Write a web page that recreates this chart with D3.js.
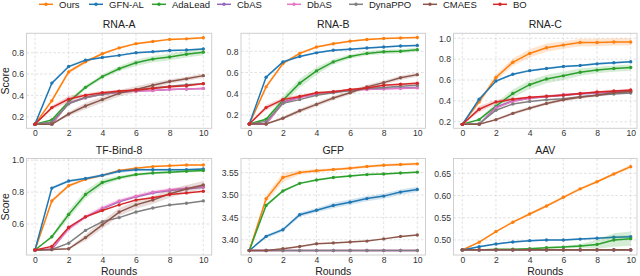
<!DOCTYPE html>
<html>
<head>
<meta charset="utf-8">
<script src="https://cdn.jsdelivr.net/npm/d3@7"></script>
<style>
  body { margin: 0; background: #fff; }
  svg { display: block; font-family: "Liberation Sans", Arial, sans-serif; }
</style>
</head>
<body>
<svg id="chart" width="640" height="276"></svg>
<script>
var methods = ["Ours", "GFN-AL", "AdaLead", "CbAS", "DbAS", "DynaPPO", "CMAES", "BO"];
var colors  = ["#ff7f0e", "#1f77b4", "#2ca02c", "#9467bd", "#e377c2", "#7f7f7f", "#8c564b", "#d62728"];
var rounds  = [0, 1, 2, 3, 4, 5, 6, 7, 8, 9, 10];
var xTicks  = [0, 2, 4, 6, 8, 10];

// mean score per round
var rnaA = {
  "Ours":    [0.13, 0.35, 0.62, 0.715, 0.79, 0.845, 0.885, 0.905, 0.925, 0.93, 0.94],
  "GFN-AL":  [0.13, 0.515, 0.67, 0.73, 0.755, 0.775, 0.80, 0.81, 0.82, 0.825, 0.835],
  "AdaLead": [0.13, 0.17, 0.34, 0.475, 0.575, 0.65, 0.705, 0.74, 0.76, 0.785, 0.805],
  "CbAS":    [0.13, 0.13, 0.33, 0.38, 0.41, 0.43, 0.44, 0.445, 0.455, 0.46, 0.465],
  "DbAS":    [0.13, 0.13, 0.325, 0.375, 0.41, 0.43, 0.44, 0.445, 0.455, 0.46, 0.465],
  "DynaPPO": [0.13, 0.15, 0.32, 0.38, 0.41, 0.435, 0.45, 0.47, 0.485, 0.50, 0.51],
  "CMAES":   [0.13, 0.13, 0.225, 0.30, 0.36, 0.42, 0.455, 0.495, 0.53, 0.555, 0.585],
  "BO":      [0.13, 0.285, 0.365, 0.40, 0.425, 0.44, 0.45, 0.465, 0.48, 0.49, 0.51]
};
var rnaB = {
  "Ours":    [0.116, 0.465, 0.685, 0.78, 0.84, 0.87, 0.895, 0.91, 0.92, 0.925, 0.93],
  "GFN-AL":  [0.116, 0.555, 0.70, 0.75, 0.785, 0.81, 0.82, 0.83, 0.84, 0.85, 0.855],
  "AdaLead": [0.116, 0.16, 0.34, 0.50, 0.615, 0.70, 0.75, 0.78, 0.795, 0.80, 0.815],
  "CbAS":    [0.116, 0.116, 0.32, 0.37, 0.40, 0.42, 0.435, 0.445, 0.45, 0.455, 0.46],
  "DbAS":    [0.116, 0.116, 0.31, 0.365, 0.395, 0.415, 0.43, 0.44, 0.445, 0.45, 0.455],
  "DynaPPO": [0.116, 0.14, 0.31, 0.345, 0.385, 0.41, 0.43, 0.45, 0.46, 0.47, 0.48],
  "CMAES":   [0.116, 0.116, 0.17, 0.24, 0.30, 0.36, 0.41, 0.465, 0.505, 0.55, 0.58],
  "BO":      [0.116, 0.27, 0.345, 0.375, 0.41, 0.42, 0.44, 0.455, 0.48, 0.49, 0.50]
};
var rnaC = {
  "Ours":    [0.175, 0.39, 0.625, 0.77, 0.855, 0.91, 0.935, 0.96, 0.96, 0.965, 0.965],
  "GFN-AL":  [0.175, 0.415, 0.59, 0.655, 0.69, 0.71, 0.73, 0.74, 0.755, 0.765, 0.775],
  "AdaLead": [0.175, 0.22, 0.35, 0.47, 0.555, 0.61, 0.64, 0.675, 0.695, 0.71, 0.72],
  "CbAS":    [0.175, 0.175, 0.34, 0.40, 0.425, 0.44, 0.455, 0.465, 0.475, 0.48, 0.49],
  "DbAS":    [0.175, 0.175, 0.33, 0.395, 0.425, 0.445, 0.46, 0.47, 0.48, 0.49, 0.495],
  "DynaPPO": [0.175, 0.18, 0.31, 0.37, 0.395, 0.41, 0.42, 0.44, 0.455, 0.465, 0.475],
  "CMAES":   [0.175, 0.175, 0.22, 0.28, 0.33, 0.375, 0.41, 0.435, 0.455, 0.48, 0.49],
  "BO":      [0.175, 0.32, 0.39, 0.415, 0.435, 0.445, 0.455, 0.47, 0.485, 0.495, 0.505]
};
var tfBind = {
  "Ours":    [0.4375, 0.745, 0.84, 0.88, 0.905, 0.935, 0.95, 0.96, 0.965, 0.97, 0.97],
  "GFN-AL":  [0.4375, 0.825, 0.87, 0.885, 0.905, 0.93, 0.94, 0.94, 0.94, 0.94, 0.945],
  "AdaLead": [0.4375, 0.52, 0.66, 0.785, 0.86, 0.89, 0.91, 0.92, 0.925, 0.93, 0.935],
  "CbAS":    [0.4375, 0.44, 0.575, 0.645, 0.695, 0.74, 0.77, 0.795, 0.81, 0.82, 0.83],
  "DbAS":    [0.4375, 0.445, 0.57, 0.645, 0.70, 0.745, 0.775, 0.80, 0.815, 0.825, 0.835],
  "DynaPPO": [0.4375, 0.44, 0.48, 0.56, 0.615, 0.64, 0.675, 0.70, 0.72, 0.73, 0.745],
  "CMAES":   [0.4375, 0.44, 0.445, 0.515, 0.595, 0.675, 0.72, 0.75, 0.79, 0.82, 0.845],
  "BO":      [0.4375, 0.46, 0.58, 0.645, 0.685, 0.72, 0.75, 0.765, 0.785, 0.795, 0.805]
};
var gfp = {
  "Ours":    [3.376, 3.4915, 3.539, 3.55, 3.554, 3.557, 3.56, 3.5635, 3.5665, 3.568, 3.5695],
  "GFN-AL":  [3.376, 3.4075, 3.4225, 3.456, 3.466, 3.4765, 3.484, 3.492, 3.4975, 3.5065, 3.5125],
  "AdaLead": [3.376, 3.4765, 3.509, 3.526, 3.5335, 3.539, 3.5425, 3.5455, 3.547, 3.549, 3.551],
  "CbAS":    [3.376, 3.376, 3.376, 3.376, 3.376, 3.376, 3.376, 3.376, 3.376, 3.376, 3.376],
  "DbAS":    [3.376, 3.376, 3.376, 3.376, 3.376, 3.376, 3.376, 3.376, 3.376, 3.376, 3.376],
  "DynaPPO": [3.376, 3.376, 3.376, 3.376, 3.376, 3.376, 3.376, 3.376, 3.376, 3.376, 3.376],
  "CMAES":   [3.376, 3.376, 3.38, 3.385, 3.391, 3.393, 3.395, 3.397, 3.402, 3.4075, 3.4105]
};
var aav = {
  "Ours":    [0.4775, 0.495, 0.519, 0.54, 0.5585, 0.5765, 0.596, 0.615, 0.631, 0.6485, 0.665],
  "GFN-AL":  [0.4775, 0.485, 0.491, 0.4955, 0.4985, 0.50, 0.50, 0.502, 0.504, 0.506, 0.5075],
  "AdaLead": [0.4775, 0.4775, 0.479, 0.479, 0.4805, 0.4825, 0.484, 0.4865, 0.49, 0.50, 0.503],
  "CbAS":    [0.4775, 0.4775, 0.4775, 0.4775, 0.4775, 0.4775, 0.4775, 0.4775, 0.4775, 0.4775, 0.4775],
  "DbAS":    [0.4775, 0.4775, 0.4775, 0.4775, 0.4775, 0.4775, 0.4775, 0.4775, 0.4775, 0.4775, 0.4775],
  "DynaPPO": [0.4775, 0.4775, 0.4775, 0.4775, 0.4775, 0.4775, 0.4775, 0.4775, 0.4775, 0.4775, 0.4775],
  "CMAES":   [0.478, 0.478, 0.478, 0.478, 0.478, 0.478, 0.478, 0.478, 0.478, 0.478, 0.478]
};

// half-width of the shaded band (std), only where visible
var rnaABand = {
  "Ours":    [0, 0.02, 0.02, 0.015, 0.012, 0.01, 0.01, 0.01, 0.008, 0.008, 0.008],
  "GFN-AL":  [0, 0.01, 0.01, 0.01, 0.008, 0.008, 0.008, 0.008, 0.008, 0.008, 0.008],
  "AdaLead": [0, 0.01, 0.02, 0.02, 0.02, 0.025, 0.03, 0.03, 0.03, 0.03, 0.03],
  "CMAES":   [0, 0, 0.02, 0.03, 0.03, 0.03, 0.03, 0.025, 0.02, 0.02, 0.02],
  "BO":      [0, 0.02, 0.03, 0.02, 0.015, 0.01, 0.01, 0.01, 0.01, 0.01, 0.01]
};
var rnaBBand = {
  "Ours":    [0, 0.02, 0.015, 0.012, 0.01, 0.01, 0.008, 0.008, 0.008, 0.008, 0.008],
  "GFN-AL":  [0, 0.01, 0.01, 0.008, 0.008, 0.008, 0.008, 0.008, 0.008, 0.008, 0.008],
  "AdaLead": [0, 0.01, 0.04, 0.04, 0.035, 0.025, 0.02, 0.02, 0.02, 0.02, 0.02],
  "CMAES":   [0, 0, 0.015, 0.02, 0.02, 0.02, 0.02, 0.02, 0.02, 0.02, 0.02],
  "BO":      [0, 0.025, 0.02, 0.015, 0.01, 0.01, 0.01, 0.01, 0.01, 0.01, 0.01]
};
var rnaCBand = {
  "Ours":    [0, 0.02, 0.03, 0.035, 0.04, 0.04, 0.035, 0.035, 0.035, 0.035, 0.035],
  "GFN-AL":  [0, 0.01, 0.01, 0.01, 0.01, 0.01, 0.01, 0.01, 0.01, 0.01, 0.01],
  "AdaLead": [0, 0.01, 0.03, 0.04, 0.04, 0.04, 0.04, 0.035, 0.03, 0.03, 0.03],
  "CMAES":   [0, 0, 0.01, 0.015, 0.015, 0.015, 0.015, 0.015, 0.015, 0.015, 0.015],
  "BO":      [0, 0.03, 0.02, 0.015, 0.01, 0.01, 0.01, 0.01, 0.01, 0.01, 0.01]
};
var tfBindBand = {
  "Ours":    [0, 0.012, 0.01, 0.008, 0.006, 0.005, 0.005, 0.005, 0.005, 0.005, 0.005],
  "GFN-AL":  [0, 0.01, 0.008, 0.008, 0.01, 0.01, 0.01, 0.008, 0.008, 0.008, 0.008],
  "AdaLead": [0, 0.01, 0.025, 0.025, 0.02, 0.012, 0.01, 0.008, 0.008, 0.008, 0.008],
  "DbAS":    [0, 0.005, 0.015, 0.015, 0.015, 0.012, 0.012, 0.012, 0.012, 0.012, 0.012],
  "CMAES":   [0, 0, 0.005, 0.02, 0.025, 0.025, 0.025, 0.025, 0.025, 0.025, 0.025]
};
var gfpBand = {
  "Ours":    [0, 0.008, 0.01, 0.005, 0.004, 0.003, 0.003, 0.003, 0.003, 0.003, 0.003],
  "GFN-AL":  [0, 0.004, 0.004, 0.005, 0.005, 0.006, 0.006, 0.006, 0.006, 0.006, 0.006],
  "AdaLead": [0, 0.004, 0.003, 0.002, 0.002, 0.002, 0.002, 0.002, 0.002, 0.002, 0.002]
};
var aavBand = {
  "Ours":    [0, 0.002, 0.002, 0.002, 0.003, 0.003, 0.003, 0.003, 0.003, 0.003, 0.004],
  "GFN-AL":  [0, 0.002, 0.002, 0.002, 0.002, 0.002, 0.002, 0.002, 0.002, 0.003, 0.003],
  "AdaLead": [0, 0, 0.001, 0.001, 0.002, 0.002, 0.003, 0.004, 0.01, 0.015, 0.016]
};

var titles   = ["RNA-A", "RNA-B", "RNA-C", "TF-Bind-8", "GFP", "AAV"];
var datasets = [rnaA, rnaB, rnaC, tfBind, gfp, aav];
var bands    = [rnaABand, rnaBBand, rnaCBand, tfBindBand, gfpBand, aavBand];
var yDomains = [[0.091, 0.982], [0.075, 0.969], [0.137, 1.048], [0.406, 1.0106], [3.366, 3.5815], [0.4662, 0.6833]];
var yTicks   = [[0.2, 0.4, 0.6, 0.8], [0.2, 0.4, 0.6, 0.8], [0.2, 0.4, 0.6, 0.8, 1.0],
                [0.6, 0.8, 1.0], [3.40, 3.45, 3.50, 3.55], [0.50, 0.55, 0.60, 0.65]];
var yFormats = [".1f", ".1f", ".1f", ".1f", ".2f", ".2f"];

// layout: columns (frame left/right, pixel of x=0 and x=10) and rows (frame top/bottom)
var cols = [
  { left: 26.5, right: 211.7, x0: 35, x10: 203.3 },
  { left: 241, right: 425.5, x0: 249.3, x10: 417.3 },
  { left: 453.5, right: 637, x0: 462.3, x10: 630.7 }
];
var rows = [ { top: 33.3, bottom: 128.3 }, { top: 158.5, bottom: 255 } ];

var svg = d3.select("#chart");

datasets.forEach(function(data, p) {
  var col = cols[p % 3], row = rows[Math.floor(p / 3)];
  var x = d3.scaleLinear().domain([0, 10]).range([col.x0, col.x10]);
  var y = d3.scaleLinear().domain(yDomains[p]).range([row.bottom, row.top]);
  var g = svg.append("g");
  var clipId = "clip" + p;

  g.append("clipPath").attr("id", clipId)
    .append("rect")
    .attr("x", col.left).attr("y", row.top)
    .attr("width", col.right - col.left).attr("height", row.bottom - row.top);

  // grid
  g.selectAll(".vgrid").data(xTicks).enter().append("line")
    .attr("x1", function(d) { return x(d); }).attr("x2", function(d) { return x(d); })
    .attr("y1", row.top).attr("y2", row.bottom)
    .attr("stroke", "#d9d9d9").attr("stroke-width", 0.8).attr("stroke-dasharray", "2.5,2");
  g.selectAll(".hgrid").data(yTicks[p]).enter().append("line")
    .attr("x1", col.left).attr("x2", col.right)
    .attr("y1", function(d) { return y(d); }).attr("y2", function(d) { return y(d); })
    .attr("stroke", "#d9d9d9").attr("stroke-width", 0.8).attr("stroke-dasharray", "2.5,2");

  // axes (labels only)
  var xAxis = d3.axisBottom(x).tickValues(xTicks).tickSize(0).tickPadding(1.5).tickFormat(d3.format("d"));
  var yAxis = d3.axisLeft(y).tickValues(yTicks[p]).tickSize(0).tickPadding(2.5).tickFormat(d3.format(yFormats[p]));
  var xa = g.append("g").attr("transform", "translate(0," + row.bottom + ")").call(xAxis);
  var ya = g.append("g").attr("transform", "translate(" + col.left + ",0)").call(yAxis);
  [xa, ya].forEach(function(a) {
    a.select(".domain").remove();
    a.selectAll("text").attr("font-size", 8.6).attr("fill", "#333");
  });

  var plot = g.append("g").attr("clip-path", "url(#" + clipId + ")");
  var line = d3.line().x(function(d, i) { return x(rounds[i]); }).y(function(d) { return y(d); });

  methods.forEach(function(m, k) {
    var vals = data[m];
    if (!vals) return;
    var sd = bands[p][m];
    if (sd) {
      var area = d3.area()
        .x(function(d, i) { return x(rounds[i]); })
        .y0(function(d, i) { return y(d - sd[i]); })
        .y1(function(d, i) { return y(d + sd[i]); });
      plot.append("path").datum(vals).attr("d", area)
        .attr("fill", colors[k]).attr("fill-opacity", 0.2);
    }
    plot.append("path").datum(vals).attr("d", line)
      .attr("fill", "none").attr("stroke", colors[k]).attr("stroke-width", 1.5);
    plot.selectAll(".pt" + k).data(vals).enter().append("circle")
      .attr("cx", function(d, i) { return x(rounds[i]); })
      .attr("cy", function(d) { return y(d); })
      .attr("r", 1.7).attr("fill", colors[k]);
  });

  // frame
  g.append("rect")
    .attr("x", col.left).attr("y", row.top)
    .attr("width", col.right - col.left).attr("height", row.bottom - row.top)
    .attr("fill", "none").attr("stroke", "#cfcfcf").attr("stroke-width", 1);

  g.append("text")
    .attr("x", (col.left + col.right) / 2).attr("y", row.top - 5)
    .attr("text-anchor", "middle").attr("font-size", 10.5).attr("fill", "#222")
    .text(titles[p]);

  if (p % 3 === 0) {
    g.append("text")
      .attr("transform", "translate(9," + ((row.top + row.bottom) / 2) + ") rotate(-90)")
      .attr("text-anchor", "middle").attr("font-size", 10.5).attr("fill", "#222")
      .text("Score");
  }
  if (p >= 3) {
    g.append("text")
      .attr("x", (col.left + col.right) / 2).attr("y", 274.5)
      .attr("text-anchor", "middle").attr("font-size", 10.5).attr("fill", "#222")
      .text("Rounds");
  }
});

// legend
var legendX = [39, 89, 152, 217, 287, 349, 423, 493];
var legend = svg.append("g");
methods.forEach(function(m, k) {
  var lx = legendX[k];
  legend.append("line")
    .attr("x1", lx).attr("x2", lx + 14).attr("y1", 4.3).attr("y2", 4.3)
    .attr("stroke", colors[k]).attr("stroke-width", 1.5);
  legend.append("circle").attr("cx", lx + 7).attr("cy", 4.3).attr("r", 1.7).attr("fill", colors[k]);
  legend.append("text")
    .attr("x", lx + 20).attr("y", 7.8)
    .attr("font-size", 9.5).attr("fill", "#222")
    .text(m);
});
</script>
</body>
</html>
